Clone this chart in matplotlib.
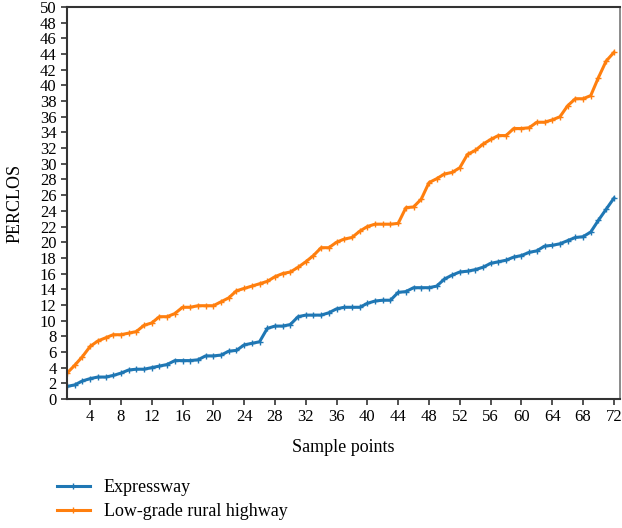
import matplotlib
matplotlib.use('Agg')
import matplotlib.pyplot as plt
import numpy as np

plt.rcParams['font.family'] = ['Liberation Serif', 'DejaVu Serif']

# sample points 1..72
samples = np.arange(1, 73)

expressway = [
    1.6, 1.8, 2.3, 2.6, 2.8, 2.8, 3.0, 3.3, 3.7, 3.8,
    3.8, 4.0, 4.2, 4.4, 4.9, 4.9, 4.9, 5.0, 5.5, 5.5,
    5.6, 6.1, 6.2, 6.9, 7.1, 7.3, 9.0, 9.3, 9.3, 9.5,
    10.5, 10.7, 10.7, 10.7, 11.0, 11.5, 11.7, 11.7, 11.7, 12.2,
    12.5, 12.6, 12.6, 13.6, 13.7, 14.2, 14.2, 14.2, 14.4, 15.3,
    15.8, 16.2, 16.3, 16.5, 16.8, 17.3, 17.5, 17.7, 18.1, 18.3,
    18.7, 18.9, 19.5, 19.6, 19.8, 20.2, 20.6, 20.7, 21.3, 22.8,
    24.2, 25.6,
]

rural = [
    3.3, 4.3, 5.4, 6.7, 7.4, 7.8, 8.2, 8.2, 8.4, 8.6,
    9.4, 9.7, 10.5, 10.5, 10.9, 11.7, 11.7, 11.9, 11.9, 11.9,
    12.4, 12.9, 13.8, 14.1, 14.4, 14.7, 15.0, 15.6, 16.0, 16.2,
    16.8, 17.5, 18.3, 19.3, 19.3, 20.0, 20.4, 20.6, 21.4, 22.0,
    22.3, 22.3, 22.3, 22.4, 24.4, 24.5, 25.5, 27.6, 28.1, 28.7,
    28.9, 29.5, 31.2, 31.7, 32.5, 33.1, 33.6, 33.6, 34.5, 34.5,
    34.6, 35.3, 35.3, 35.6, 36.0, 37.4, 38.3, 38.3, 38.7, 41.0,
    43.1, 44.2,
]

fig = plt.figure(figsize=(6.22, 5.28), dpi=100)
ax = fig.add_axes([67/622, 1 - 399/528, (620 - 67)/622, (399 - 7)/528])

ax.plot(samples, expressway, color='#1f77b4', linewidth=2.2, marker='+',
        markersize=4, markeredgewidth=1, label='Expressway')
ax.plot(samples, rural, color='#ff7f0e', linewidth=2.2, marker='+',
        markersize=4, markeredgewidth=1, label='Low-grade rural highway')

ax.set_xlim(1, 72.8)
ax.set_ylim(0, 50)
ax.set_xticks(np.arange(4, 73, 4))
ax.set_yticks(np.arange(0, 51, 2))
ax.tick_params(axis='both', labelsize=12, length=4, width=1.2, color='#333333',
               direction='out')

for side in ['left', 'bottom', 'top']:
    ax.spines[side].set_color('#333333')
    ax.spines[side].set_linewidth(1.5)
ax.spines['right'].set_color('#777777')
ax.spines['right'].set_linewidth(1.2)

ax.set_xlabel('Sample points', fontsize=13, labelpad=10)
ax.set_ylabel('PERCLOS', fontsize=13, labelpad=12)

handles, labels = ax.get_legend_handles_labels()
fig.legend(handles, labels, loc='center left', bbox_to_anchor=(57/622, 1 - 499.5/528),
           frameon=False, fontsize=13, borderpad=0, borderaxespad=0,
           handlelength=1.8, handletextpad=0.8, labelspacing=0.4)

plt.savefig('out.png', dpi=100)
plt.close()
